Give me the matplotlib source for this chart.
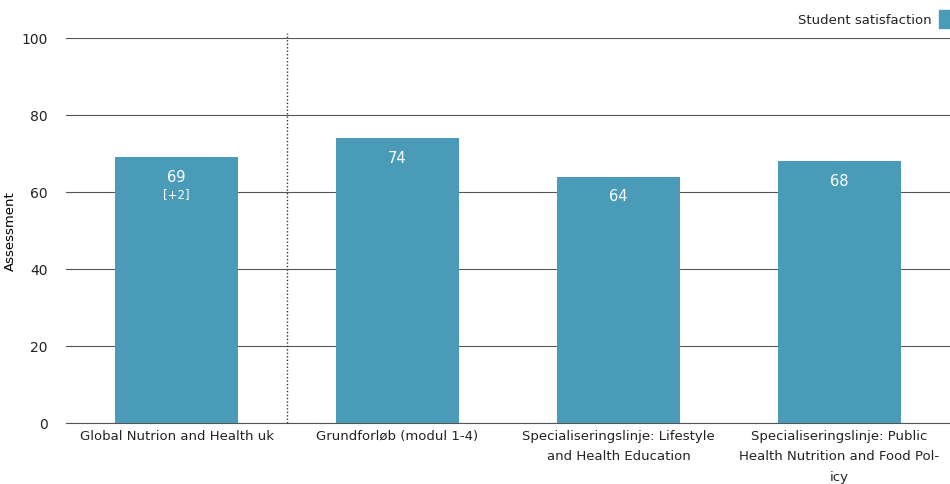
import numpy as np
import matplotlib
matplotlib.use("Agg")
import matplotlib.pyplot as plt
from matplotlib.patches import Rectangle

categories = ["Global Nutrion and Health uk",
              "Grundforløb (modul 1-4)",
              "Specialiseringslinje: Lifestyle\nand Health Education",
              "Specialiseringslinje: Public\nHealth Nutrition and Food Pol-\nicy"]
satisfaction = [69, 74, 64, 68]
change = ["[+2]", "", "", ""]
yticks = [0, 20, 40, 60, 80, 100]

BAR = "#4a9bb7"
W, H = 950, 485
fig = plt.figure(figsize=(W / 100, H / 100), dpi=100)
plt.rcParams["font.family"] = ["DejaVu Sans"]

ax = fig.add_axes([66 / W, 1 - 424 / H, (950 - 66) / W, (424 - 39) / H])
x = np.arange(len(categories))
ax.bar(x, satisfaction, width=0.56, color=BAR, zorder=3)
ax.set_xlim(-0.5, 3.5)
ax.set_ylim(0, 100)
ax.set_yticks(yticks)
ax.yaxis.grid(True, color="#555555", linewidth=0.8, zorder=1)
ax.tick_params(axis="y", length=0, pad=13, labelsize=10, colors="#222222")
ax.tick_params(axis="x", length=0, pad=4, labelsize=9.5, colors="#222222")
ax.set_xticks(x)
ax.set_xticklabels(categories, linespacing=1.75, va="top")
for s in ["top", "right", "left"]:
    ax.spines[s].set_visible(False)
ax.spines["bottom"].set_color("#555555")
ax.set_ylabel("Assessment", fontsize=9.5)
ax.yaxis.set_label_coords(-49 / 884, 0.5)

# divider between first category and the rest
ax.axvline(0.5, ymin=0, ymax=1.012, color="#333333", linestyle=(0, (1, 1.5)),
           linewidth=1, clip_on=False, zorder=4)

for xi, v, c in zip(x, satisfaction, change):
    ax.text(xi, v - 5, str(v), ha="center", va="center", color="white",
            fontsize=10.5, zorder=5)
    if c:
        ax.text(xi, v - 9.5, c, ha="center", va="center", color="white",
                fontsize=8.5, zorder=5)

# legend
fig.text(932 / W, 1 - 20 / H, "Student satisfaction", ha="right", va="center",
         fontsize=9.5, color="#222222")
fig.patches.append(Rectangle((939 / W, 1 - 29 / H), 14 / W, 18 / H,
                             transform=fig.transFigure, color=BAR))

fig.savefig("out.png", dpi=100)
